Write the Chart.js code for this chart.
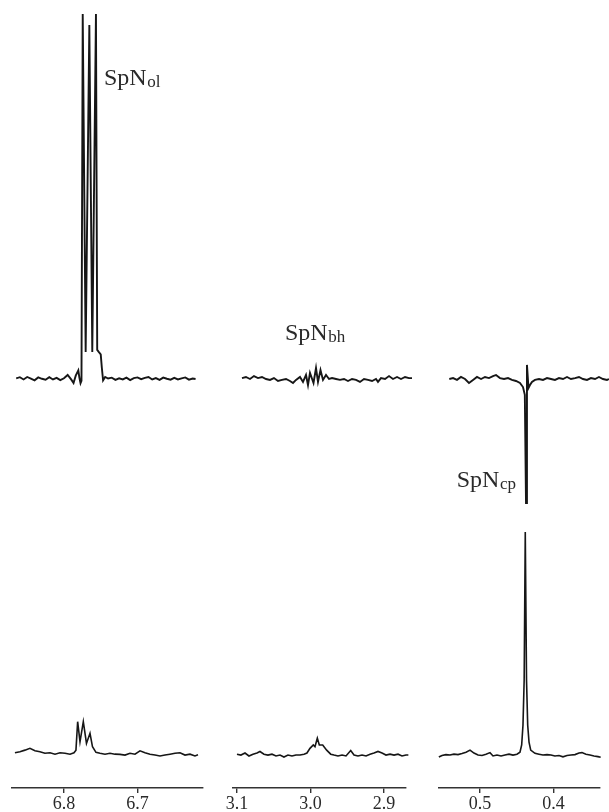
<!DOCTYPE html>
<html>
<head>
<meta charset="utf-8">
<script src="https://cdn.jsdelivr.net/npm/chart.js@4.4.1/dist/chart.umd.min.js"></script>
<style>
  html, body { margin: 0; padding: 0; background: #fff; }
  #wrap { position: relative; width: 609px; height: 812px; overflow: hidden; background: #fff; }
  canvas { position: absolute; top: 0; }
</style>
</head>
<body>
<div id="wrap">
  <canvas id="c-ol" width="210" height="812" style="left:0px"></canvas>
  <canvas id="c-bh" width="200" height="812" style="left:220px"></canvas>
  <canvas id="c-cp" width="179" height="812" style="left:430px"></canvas>
</div>
<script>
// chemical shift (ppm) and intensity (bottom SpNcp peak = ~100)

// --- SpN ol region (6.87 - 6.61 ppm)
const olTicks = [6.8, 6.7];
const olShiftTop = [6.865, 6.860, 6.855, 6.850, 6.845, 6.840, 6.835, 6.830, 6.825, 6.820, 6.815, 6.810, 6.805, 6.800,
  6.795, 6.790, 6.787, 6.784, 6.7805, 6.779, 6.7775, 6.7762,
  6.7745, 6.7705, 6.7655, 6.7615, 6.7565,
  6.7548, 6.7525, 6.7500, 6.7485, 6.7468, 6.7440,
  6.740, 6.735, 6.730, 6.725, 6.720, 6.715, 6.710, 6.705, 6.700, 6.695, 6.690, 6.685, 6.680, 6.675, 6.670, 6.665,
  6.660, 6.655, 6.650, 6.645, 6.640, 6.635, 6.630, 6.625, 6.621];
const olTop = [0.3, 0.8, -0.2, 0.9, 0.2, -0.6, 0.7, 0.1, -0.3, 0.8, -0.2, 0.5, -0.5, 0.3,
  1.8, -0.3, -1.8, 1.5, 3.8, 0.5, -1.9, -0.8,
  163, 12, 158, 12, 163,
  13, 12, 11, 5, -0.6, 0.9,
  0.2, 0.6, -0.4, 0.3, -0.2, 0.6, -0.5, 0.4, 0.7, -0.1, 0.5, 0.9, -0.2, 0.4, -0.4, 0.6,
  0.1, -0.3, 0.5, -0.2, 0.3, 0.7, -0.3, 0.2, 0.0];
const olShiftBot = [6.8667, 6.8599, 6.8531, 6.8463, 6.8395, 6.8327, 6.8259, 6.8190, 6.8122, 6.8054, 6.7986, 6.7918,
  6.7864, 6.7837, 6.7814, 6.7782, 6.7737, 6.7694, 6.7646, 6.7612, 6.7565,
  6.7510, 6.7442, 6.7374, 6.7306, 6.7238, 6.7170, 6.7102, 6.7034, 6.6966, 6.6898, 6.6830, 6.6762, 6.6694, 6.6626,
  6.6558, 6.6490, 6.6422, 6.6354, 6.6286, 6.6218, 6.6177];
const olBot = [1.0, 1.5, 2.2, 3.0, 1.9, 1.5, 0.8, 1.0, 0.4, 1.0, 0.8, 0.4,
  1.0, 2.2, 14.9, 5.9, 14.9, 5.2, 9.7, 3.7, 1.2,
  0.8, 0.4, 0.8, 0.4, 0.3, 0, 0.8, 0.4, 1.9, 1.0, 0.4, 0, -0.4, 0,
  0.4, 0.8, 1.0, 0, 0.4, -0.4, 0.1];

// --- SpN bh region (3.10 - 2.87 ppm)
const bhTicks = [3.1, 3.0, 2.9];
const bhShiftTop = [3.0932, 3.0878, 3.0823, 3.0769, 3.0714, 3.0660, 3.0605, 3.0551, 3.0497, 3.0442, 3.0388, 3.0333, 3.0279,
  3.0238, 3.0197, 3.0143, 3.0102, 3.0061, 3.0034, 3.0007, 2.9959, 2.9925, 2.9898, 2.9864, 2.9830, 2.9789, 2.9748,
  2.9707, 2.9653, 2.9599, 2.9544, 2.9490, 2.9435, 2.9381, 2.9327, 2.9272, 2.9218, 2.9163, 2.9109,
  2.9082, 2.9041, 2.8986, 2.8932, 2.8878, 2.8823, 2.8769, 2.8714, 2.8660, 2.8619];
const bhTop = [0.4, 0.9, 0, 1.3, 0.4, 0.9, 0, -0.4, 0.4, -0.9, -0.4, 0, -0.9,
  -1.8, -0.4, 0.9, -1.3, 1.8, -2.7, 2.7, -1.8, 4.9, -1.3, 4.0, -0.4, 1.8, 0,
  0.4, 0, -0.4, 0, -0.9, 0, -0.4, -1.3, 0, -0.4, -0.9, 0,
  -1.3, 0.4, 0, 1.3, 0, 0.9, 0, 0.9, 0.4, 0.4];
const bhShiftBot = [3.1000, 3.0946, 3.0891, 3.0837, 3.0782, 3.0728, 3.0687, 3.0633, 3.0578, 3.0524, 3.0469, 3.0415,
  3.0361, 3.0306, 3.0252, 3.0197, 3.0143, 3.0088, 3.0048,
  3.0007, 2.9962, 2.9939, 2.9907, 2.9880, 2.9834, 2.9780, 2.9725,
  2.9680, 2.9626, 2.9571, 2.9517, 2.9453, 2.9408, 2.9354, 2.9299, 2.9245, 2.9190, 2.9136, 2.9082, 2.9027, 2.8973,
  2.8918, 2.8864, 2.8810, 2.8755, 2.8701, 2.8669];
const bhBot = [0.4, 0, 0.9, -0.4, 0.4, 0.9, 1.6, 0.4, 0, 0.4, -0.4, 0, -0.9, 0, -0.4, 0, 0, 0.4, 0.9,
  3.0, 4.5, 3.7, 7.5, 4.5, 4.5, 2.2, 0.4,
  0, -0.4, 0, -0.4, 2.0, 0, -0.4, 0, -0.4, 0.4, 0.9, 1.6, 0.9, 0, 0.4, 0, 0.4, -0.4, 0, 0];

// --- SpN cp region (0.56 - 0.34 ppm)
const cpTicks = [0.5, 0.4];
const cpShiftTop = [0.5418, 0.5367, 0.5313, 0.5259, 0.5204, 0.5150, 0.5095, 0.5041, 0.4986, 0.4932, 0.4878, 0.4823,
  0.4782, 0.4728, 0.4673, 0.4619, 0.4565, 0.4510, 0.4456, 0.4415,
  0.4390, 0.4374, 0.4361, 0.4340, 0.4320, 0.4293, 0.4252,
  0.4197, 0.4143, 0.4088, 0.4034, 0.3980, 0.3925, 0.3871, 0.3816, 0.3762, 0.3707, 0.3653, 0.3599, 0.3544, 0.3490,
  0.3435, 0.3381, 0.3327, 0.3272, 0.3245];
const cpTop = [0, 0.4, -0.4, 0.9, 0, -1.8, -0.4, 0.9, 0, 0.9, 0.4, 1.3, 1.8, 0.4, 0, 0.4, -0.4, -0.9, -1.8, -3.6,
  -7.1, -55.4, 6.3, -4.0, -2.7, -1.3, -0.4,
  0, -0.4, 0.4, 0, -0.4, 0.4, 0, 0.9, 0, 0.4, 0.9, 0, -0.4, 0.4, 0, 0.9, 0, -0.4, 0];
const cpShiftBot = [0.5560, 0.5517, 0.5463, 0.5408, 0.5354, 0.5299, 0.5245, 0.5190, 0.5136, 0.5082, 0.5027, 0.4973,
  0.4918, 0.4864, 0.4823, 0.4769, 0.4714, 0.4660, 0.4605, 0.4551, 0.4497, 0.4456,
  0.4433, 0.4415, 0.4399, 0.4384, 0.4367, 0.4351, 0.4333, 0.4310,
  0.4252, 0.4197, 0.4143, 0.4088, 0.4034, 0.3980, 0.3925, 0.3871, 0.3816, 0.3762, 0.3707, 0.3653, 0.3612, 0.3558,
  0.3503, 0.3449, 0.3395, 0.3358];
const cpBot = [-0.9, -0.2, 0.2, 0, 0.4, 0.2, 0.7, 1.3, 2.2, 0.9, 0, -0.2, 0.4, 1.1, -0.4, 0, -0.4, 0, 0.4, 0, 0.4, 1.3,
  4.5, 13.4, 33.5, 99.6, 33.5, 13.4, 5.8, 2.2,
  0.8, 0.4, 0, 0.2, 0, -0.4, -0.2, -0.8, -0.2, 0, 0.2, 0.9, 1.1, 0.4, 0, -0.4, -0.7, -1.0];

const lineColor = '#161616';
const inkColor = '#2a2a2a';
const serif = '"Liberation Serif", "DejaVu Serif", serif';

function toPoints(xs, ys) {
  return xs.map((x, i) => ({ x: x, y: ys[i] }));
}

// draws "SpN" with a subscript at a data position
const subLabel = {
  id: 'subLabel',
  afterDatasetsDraw(chart, args, o) {
    if (!o || !o.main) return;
    const c = chart.ctx;
    const px = chart.scales.x.getPixelForValue(o.x);
    const py = chart.scales[o.axis].getPixelForValue(o.y);
    c.save();
    c.fillStyle = inkColor;
    c.textBaseline = 'alphabetic';
    c.textAlign = 'left';
    c.font = '24px ' + serif;
    c.fillText(o.main, px, py);
    const w = c.measureText(o.main).width;
    c.font = '17px ' + serif;
    c.fillText(o.sub, px + w + 0.5, py + 2);
    c.restore();
  }
};

function makePanel(canvasId, p) {
  const ctx = document.getElementById(canvasId).getContext('2d');
  const base = { borderColor: lineColor, pointRadius: 0, tension: 0, clip: false, fill: false };
  return new Chart(ctx, {
    type: 'line',
    data: {
      datasets: [
        Object.assign({}, base, { data: toPoints(p.topShift, p.top), yAxisID: 'yTop', borderWidth: 1.9 }),
        Object.assign({}, base, { data: toPoints(p.botShift, p.bot), yAxisID: 'yBot', borderWidth: 1.6 })
      ]
    },
    options: {
      responsive: false,
      animation: false,
      devicePixelRatio: 1,
      layout: { padding: { left: p.padL, right: p.padR, top: 0, bottom: 0 } },
      plugins: {
        legend: { display: false },
        tooltip: { enabled: false },
        subLabel: p.label
      },
      scales: {
        x: {
          type: 'linear',
          reverse: true,
          min: p.min,
          max: p.max,
          afterFit(s) { s.height = 24; },
          afterBuildTicks(s) { s.ticks = p.ticks.map(v => ({ value: v })); },
          ticks: {
            callback: v => Number(v).toFixed(1),
            font: { family: serif, size: 18 },
            color: inkColor,
            padding: 0,
            maxRotation: 0,
            autoSkip: false
          },
          grid: { display: true, drawOnChartArea: false, drawTicks: true, tickLength: 5, color: '#333', lineWidth: 1.4 },
          border: { display: true, color: '#333', width: 1.5 }
        },
        yTop: { display: false, min: -182.6, max: 169.2 },
        yBot: { display: false, min: -14.7, max: 337.0 }
      }
    },
    plugins: [subLabel]
  });
}

makePanel('c-ol', {
  min: 6.6109, max: 6.8707, ticks: olTicks, padL: 12, padR: 7,
  topShift: olShiftTop, top: olTop, botShift: olShiftBot, bot: olBot,
  label: { main: 'SpN', sub: 'ol', x: 6.7456, y: 131.3, axis: 'yTop' }
});
makePanel('c-bh', {
  min: 2.8701, max: 3.1054, ticks: bhTicks, padL: 13, padR: 14,
  topShift: bhShiftTop, top: bhTop, botShift: bhShiftBot, bot: bhBot,
  label: { main: 'SpN', sub: 'bh', x: 3.0347, y: 17.4, axis: 'yTop' }
});
makePanel('c-cp', {
  min: 0.3367, max: 0.5558, ticks: cpTicks, padL: 9, padR: 9,
  topShift: cpShiftTop, top: cpTop, botShift: cpShiftBot, bot: cpBot,
  label: { main: 'SpN', sub: 'cp', x: 0.5317, y: -48.1, axis: 'yTop' }
});
</script>
</body>
</html>
